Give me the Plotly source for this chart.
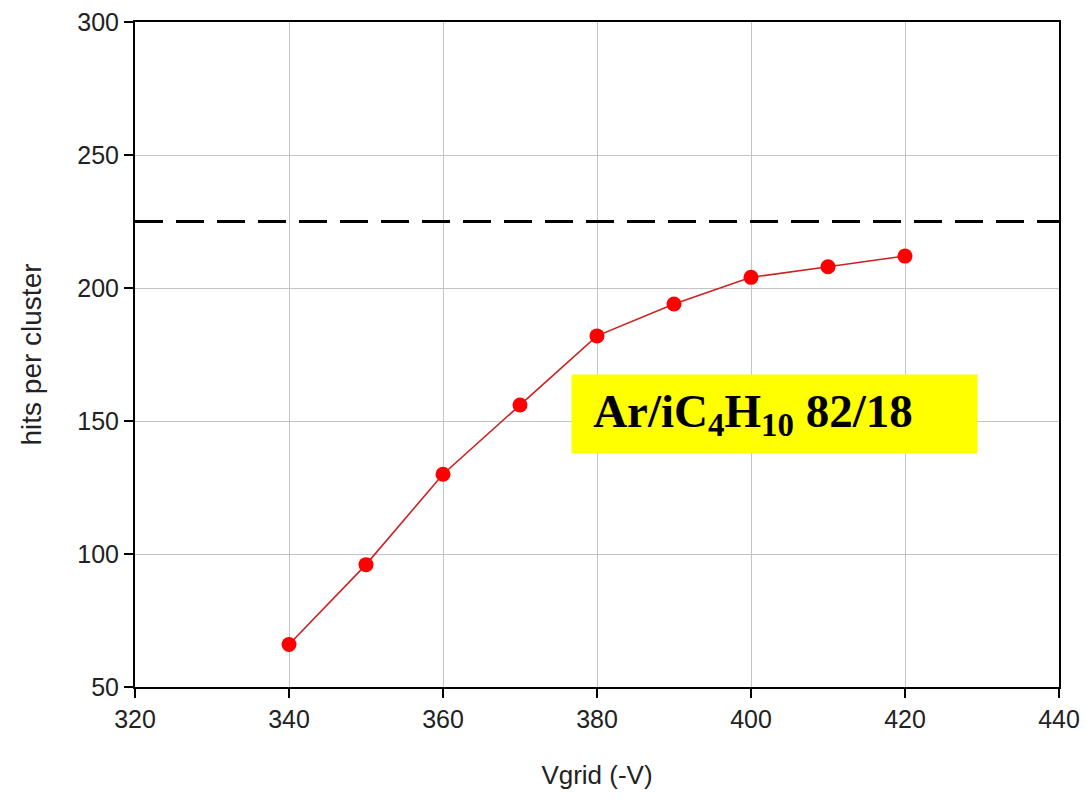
import plotly.graph_objects as go

vgrid = [340, 350, 360, 370, 380, 390, 400, 410, 420]
hits = [66, 96, 130, 156, 182, 194, 204, 208, 212]
limit_value = 225
gas_label = "&nbsp;&#8201;<b>Ar/iC<sub>4</sub>H<sub>10</sub> 82/18</b>"

fig = go.Figure()
fig.add_trace(go.Scatter(
    x=vgrid, y=hits, mode="lines+markers",
    line=dict(color="#cc2222", width=1.6),
    marker=dict(color="#ff0000", size=15, line=dict(width=0)),
    showlegend=False,
))
fig.add_trace(go.Scatter(
    x=[320, 440], y=[limit_value, limit_value], mode="lines",
    line=dict(color="black", width=3, dash="28px,13px"),
    showlegend=False,
))

axis_common = dict(
    showline=True, linecolor="black", linewidth=2, mirror=True,
    ticks="outside", ticklen=9, tickwidth=2, tickcolor="black",
    showgrid=True, gridcolor="#c4c4c4", gridwidth=1,
    zeroline=False,
    tickfont=dict(family="Liberation Sans, Arial", size=25, color="#222222"),
)

fig.update_xaxes(range=[320, 440], dtick=20, tick0=320, automargin="bottom",
                 title=dict(text="Vgrid (-V)", standoff=34,
                            font=dict(family="Liberation Sans, Arial", size=26, color="#222222")),
                 **axis_common)
fig.update_yaxes(range=[50, 300], dtick=50, tick0=50, automargin="left",
                 title=dict(text="hits per cluster", standoff=27,
                            font=dict(family="Liberation Sans, Arial", size=28, color="#222222")),
                 **axis_common)

fig.add_annotation(
    x=403.0, y=152.6, xref="x", yref="y",
    text=gas_label, showarrow=False,
    bgcolor="#ffff00", width=405, height=78, align="left",
    borderpad=0,
    font=dict(family="Liberation Serif, Times New Roman", size=47, color="black"),
)

fig.update_layout(
    width=1086, height=802,
    margin=dict(l=135, r=27, t=22, b=115),
    plot_bgcolor="white", paper_bgcolor="white",
)

fig.write_html("out.html")
